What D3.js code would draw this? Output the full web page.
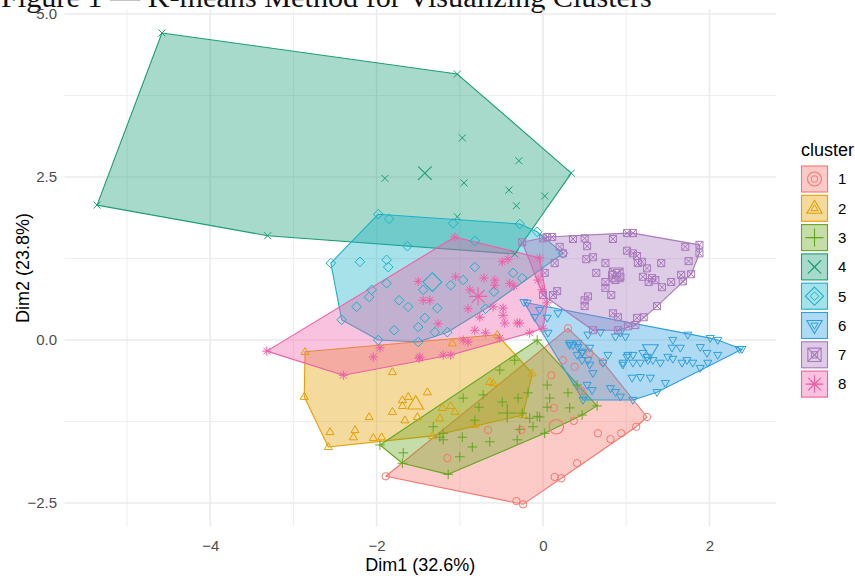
<!DOCTYPE html>
<html>
<head>
<meta charset="utf-8">
<script src="https://cdn.jsdelivr.net/npm/d3@7"></script>
<style>
  html, body { margin: 0; padding: 0; background: #ffffff; }
  svg { display: block; }
</style>
</head>
<body>
<svg id="chart" width="855" height="576"></svg>
<script>
// ---- data: PCA coordinates (Dim1, Dim2) of each observation, by k-means cluster ----
const clusterNames = ["1", "2", "3", "4", "5", "6", "7", "8"];
const clusterColors = ["#F8766D", "#E69F00", "#66A61E", "#1B9E77", "#17B4C8", "#2E9FDF", "#A979BD", "#EE5FA7"];
const clusterShapes = ["circle", "triangle", "plus", "cross", "diamond", "triangleDown", "squareCross", "asterisk"];

const cluster1 = [[0.30,0.18],[0.56,-0.20],[0.38,-0.41],[0.10,-0.54],[0.24,-0.31],[0.72,-0.34],[0.46,-0.78],
  [0.13,-1.04],[0.37,-1.24],[-0.26,-1.38],[-0.66,-1.38],[-1.15,-1.81],[0.66,-1.43],[0.81,-1.52],[0.94,-1.43],
  [1.12,-1.33],[1.25,-1.18],[0.41,-1.89],[0.14,-2.10],[0.22,-2.12],[-0.32,-2.47],[-0.24,-2.52],[-1.89,-2.09]];
const cluster2 = [[-2.86,-0.18],[-1.81,-0.49],[-2.87,-0.87],[-2.56,-1.41],[-2.26,-1.38],[-2.28,-1.49],[-2.58,-1.64],
  [-2.09,-1.18],[-1.81,-1.10],[-1.69,-0.92],[-1.69,-1.01],[-1.62,-0.87],[-1.39,-0.80],[-1.51,-1.18],[-1.66,-1.23],
  [-2.04,-1.50],[-1.94,-1.49],[-1.21,-1.04],[-1.24,-1.20],[-1.09,-0.05],[-0.55,0.08],[-0.13,-0.51],[-0.64,-0.64],
  [-0.60,-0.66],[-1.11,-1.01],[-1.06,-1.10],[-0.82,-1.30],[-0.24,-1.15],[-1.33,-1.47]];
const cluster3 = [[-0.07,0.00],[-0.96,-0.89],[-0.72,-0.84],[-0.77,-1.03],[-0.49,-0.95],[-0.30,-0.89],[-0.18,-0.81],
  [0.05,-0.69],[0.08,-0.89],[0.05,-1.03],[0.30,-0.81],[0.41,-0.69],[0.32,-1.04],[0.47,-1.15],[0.65,-1.01],
  [-0.25,-1.12],[-0.16,-1.20],[-0.07,-1.17],[-0.04,-1.18],[-0.12,-1.33],[-0.28,-1.37],[-0.31,-1.53],[0.02,-1.43],
  [-0.64,-1.56],[-0.85,-1.64],[-1.00,-1.79],[-1.20,-1.53],[-0.97,-1.49],[-1.32,-1.33],[-0.82,-1.23],[-1.14,-2.06],
  [-1.24,-1.49],[-1.20,-1.43],[-1.68,-1.73],[-1.96,-1.61],[-1.69,-1.89],[-0.52,-0.46],[-0.34,-0.31]];
const cluster4 = [[-4.58,4.71],[-1.03,4.08],[0.34,2.56],[-5.36,2.07],[-3.31,1.60],[-0.97,3.10],[-0.29,2.75],
  [-0.95,2.41],[-1.90,2.48],[-0.41,2.30],[-0.32,2.06],[0.02,2.21],[-1.03,1.89],[-0.34,1.32]];
const cluster5 = [[-2.55,1.18],[-1.98,1.93],[-1.85,1.86],[-1.08,1.79],[-0.28,1.78],[-0.07,1.66],[0.24,1.33],
  [-0.82,1.52],[-1.63,1.44],[-1.88,1.23],[-1.86,1.12],[-0.82,1.12],[-1.88,0.87],[-1.44,0.77],[-1.11,0.84],
  [-0.96,0.92],[-2.09,0.66],[-2.24,0.51],[-1.73,0.61],[-1.62,0.51],[-1.27,0.49],[-0.59,0.74],[-1.42,0.34],
  [-1.50,0.20],[-1.79,0.15],[-1.30,0.12],[-1.15,0.12],[-0.69,0.48],[-0.36,1.03],[-0.25,0.95],[-2.42,0.31],
  [-1.98,0.00],[-1.50,-0.03],[-2.20,1.20],[-2.06,0.77]];
const cluster6 = [[-0.23,0.58],[-0.19,0.57],[-0.04,0.46],[0.18,0.41],[-0.10,0.35],[0.05,0.34],[0.06,0.11],
  [0.54,0.08],[0.87,0.05],[0.99,0.05],[1.56,0.00],[1.74,0.08],[2.01,0.03],[2.10,0.00],[2.36,-0.14],[2.39,-0.14],
  [1.55,-0.12],[1.65,-0.12],[1.89,-0.11],[1.97,-0.20],[2.10,-0.23],[0.32,-0.05],[0.42,-0.11],[0.56,-0.12],
  [0.47,-0.18],[0.78,-0.23],[1.01,-0.26],[1.08,-0.23],[1.25,-0.26],[1.32,-0.31],[1.50,-0.26],[1.56,-0.29],
  [1.67,-0.35],[1.73,-0.31],[1.80,-0.35],[1.98,-0.35],[0.54,-0.31],[0.72,-0.35],[0.96,-0.35],[1.17,-0.35],
  [1.41,-0.35],[0.36,-0.08],[0.47,-0.20],[0.41,-0.23],[0.47,-0.31],[0.56,-0.38],[0.60,-0.51],[0.53,-0.69],
  [0.59,-0.77],[0.81,-0.74],[0.87,-0.80],[0.93,-0.87],[0.48,-0.92],[1.08,-0.92],[1.02,-0.23],[1.20,-0.20],
  [1.26,-0.31],[1.08,-0.35],[0.96,-0.38],[1.29,-0.58],[1.17,-0.57],[1.07,-0.58],[1.37,-0.80],[0.69,0.12],
  [0.93,0.11],[0.42,-0.05],[0.32,-0.08],[1.47,-0.66],[1.89,-0.43]];
const cluster7 = [[-0.25,1.50],[0.00,1.56],[0.05,1.58],[0.11,1.58],[0.36,1.55],[0.50,1.56],[0.84,1.55],[1.01,1.64],
  [1.08,1.64],[1.71,1.43],[1.88,1.46],[1.88,1.33],[0.53,1.44],[0.20,1.43],[0.24,1.33],[1.01,1.37],[1.08,1.33],
  [1.13,1.29],[0.52,1.24],[0.60,1.27],[0.14,1.18],[0.75,1.18],[1.42,1.18],[1.75,1.21],[1.14,1.18],[1.19,1.20],
  [1.25,1.10],[0.02,1.03],[0.64,1.03],[0.83,1.00],[0.89,1.03],[0.93,0.97],[0.87,0.92],[1.20,0.97],[1.31,0.95],
  [1.35,0.92],[1.27,0.89],[1.54,0.89],[1.66,1.00],[1.78,1.01],[1.68,0.90],[0.75,0.89],[0.75,0.80],[1.43,0.81],
  [0.82,0.69],[0.17,0.75],[0.00,0.69],[0.12,0.69],[0.54,0.67],[0.50,0.61],[0.50,0.52],[1.37,0.52],[0.84,0.41],
  [0.90,0.35],[1.02,0.21],[1.11,0.23],[1.13,0.34],[1.21,0.35],[0.60,0.15],[0.90,0.15]];
const cluster8 = [[-3.32,-0.17],[-2.40,-0.54],[-2.04,-0.26],[-1.48,-0.26],[-1.20,-0.23],[-1.06,1.58],[-1.50,0.90],
  [-1.44,0.61],[-1.05,0.97],[-1.26,0.25],[-0.90,0.48],[-0.76,0.35],[-0.60,0.51],[-0.48,0.49],[-0.48,0.38],
  [-0.58,0.92],[-0.58,0.84],[-0.49,1.20],[-0.42,1.24],[-0.35,0.83],[-0.46,0.26],[-0.31,0.26],[-0.82,0.15],
  [-0.69,0.11],[-0.96,0.00],[-0.90,-0.03],[-1.96,-0.12],[-1.49,-0.28],[-1.11,-0.23],[-0.52,0.03],[-0.40,0.87],
  [-0.06,0.92],[-0.01,0.77],[0.05,0.57],[0.00,0.18],[-0.16,0.11],[-0.28,0.26],[-1.36,0.61],[-0.88,0.77],
  [-0.71,0.95],[-0.04,1.26]];
const clusterPoints = [cluster1, cluster2, cluster3, cluster4, cluster5, cluster6, cluster7, cluster8];

// cluster centres (drawn with enlarged symbols)
const clusterCenters = [[0.16,-1.33],[-1.53,-0.98],[-0.43,-1.12],[-1.42,2.56],[-1.33,0.89],[1.29,-0.15],[0.88,1.00],[-0.78,0.67]];

const xTicks = [-4, -2, 0, 2];
const yTicks = [-2.5, 0, 2.5, 5];
const xMinor = [-5, -3, -1, 1];
const yMinor = [-1.25, 1.25, 3.75];
const xTitle = "Dim1 (32.6%)";
const yTitle = "Dim2 (23.8%)";
const legendTitle = "cluster";
const caption = "Figure 1 \u2014 K-means Method for Visualizing Clusters";

// ---- layout ----
const svg = d3.select("#chart");
const panel = { left: 64.6, right: 776, top: 9.5, bottom: 526.5 };
const x = d3.scaleLinear().domain([-5.75, 2.80]).range([panel.left, panel.right]);
const y = d3.scaleLinear().domain([-2.86, 5.07]).range([panel.bottom, panel.top]);
const fillAlpha = 0.38;
const pointSize = 3.7, centerSize = 7.2;

// symbol outlines (open shapes, like R pch 1-8)
function symbolPath(shape, s) {
  switch (shape) {
    case "circle":
      return `M${s},0A${s},${s} 0 1,1 ${-s},0A${s},${s} 0 1,1 ${s},0Z`;
    case "triangle": {
      const h = s * 1.15;
      return `M0,${-h}L${h * 0.95},${h * 0.62}L${-h * 0.95},${h * 0.62}Z`;
    }
    case "triangleDown": {
      const h = s * 1.15;
      return `M0,${h}L${h * 0.95},${-h * 0.62}L${-h * 0.95},${-h * 0.62}Z`;
    }
    case "plus": {
      const p = s * 1.3;
      return `M${-p},0H${p}M0,${-p}V${p}`;
    }
    case "cross": {
      const c = s * 0.95;
      return `M${-c},${-c}L${c},${c}M${-c},${c}L${c},${-c}`;
    }
    case "diamond": {
      const d = s * 1.3;
      return `M0,${-d}L${d},0L0,${d}L${-d},0Z`;
    }
    case "squareCross": {
      const q = s * 0.95;
      return `M${-q},${-q}H${q}V${q}H${-q}Z M${-q},${-q}L${q},${q}M${-q},${q}L${q},${-q}`;
    }
    case "asterisk": {
      const p = s * 1.25, c = s * 0.9;
      return `M${-p},0H${p}M0,${-p}V${p}M${-c},${-c}L${c},${c}M${-c},${c}L${c},${-c}`;
    }
  }
  return "";
}

// ---- caption line above the panel ----
svg.append("text")
  .attr("x", 1).attr("y", 7)
  .attr("font-family", "'Liberation Serif', 'Times New Roman', serif")
  .attr("font-size", 30.2)
  .attr("fill", "#111")
  .text(caption);

// ---- grid ----
const grid = svg.append("g");
grid.selectAll("line.xminor").data(xMinor).join("line")
  .attr("x1", d => x(d)).attr("x2", d => x(d))
  .attr("y1", panel.top).attr("y2", panel.bottom)
  .attr("stroke", "#EBEBEB").attr("stroke-width", 0.9);
grid.selectAll("line.yminor").data(yMinor).join("line")
  .attr("x1", panel.left).attr("x2", panel.right)
  .attr("y1", d => y(d)).attr("y2", d => y(d))
  .attr("stroke", "#EBEBEB").attr("stroke-width", 0.9);
grid.selectAll("line.xmajor").data(xTicks).join("line")
  .attr("x1", d => x(d)).attr("x2", d => x(d))
  .attr("y1", panel.top).attr("y2", panel.bottom)
  .attr("stroke", "#EBEBEB").attr("stroke-width", 1.6);
grid.selectAll("line.ymajor").data(yTicks).join("line")
  .attr("x1", panel.left).attr("x2", panel.right)
  .attr("y1", d => y(d)).attr("y2", d => y(d))
  .attr("stroke", "#EBEBEB").attr("stroke-width", 1.6);

// ---- convex hulls, one per cluster ----
const hulls = svg.append("g");
clusterPoints.forEach((pts, i) => {
  const hull = d3.polygonHull(pts.map(p => [x(p[0]), y(p[1])]));
  hulls.append("path")
    .attr("d", "M" + hull.join("L") + "Z")
    .attr("fill", clusterColors[i]).attr("fill-opacity", fillAlpha)
    .attr("stroke", clusterColors[i]).attr("stroke-width", 1.1)
    .attr("stroke-linejoin", "round");
});

// ---- observations ----
const pointsG = svg.append("g");
clusterPoints.forEach((pts, i) => {
  pointsG.selectAll(null).data(pts).join("path")
    .attr("transform", d => `translate(${x(d[0])},${y(d[1])})`)
    .attr("d", symbolPath(clusterShapes[i], pointSize))
    .attr("fill", "none")
    .attr("stroke", clusterColors[i]).attr("stroke-width", 1);
});

// ---- cluster centres ----
svg.append("g").selectAll("path").data(clusterCenters).join("path")
  .attr("transform", d => `translate(${x(d[0])},${y(d[1])})`)
  .attr("d", (d, i) => symbolPath(clusterShapes[i], centerSize))
  .attr("fill", "none")
  .attr("stroke", (d, i) => clusterColors[i]).attr("stroke-width", 1.1);

// ---- axes ----
const xAxis = svg.append("g")
  .attr("transform", `translate(0,${panel.bottom})`)
  .call(d3.axisBottom(x).tickValues(xTicks).tickSize(0).tickPadding(13.5).tickFormat(d3.format("d")));
const yAxis = svg.append("g")
  .attr("transform", `translate(${panel.left},0)`)
  .call(d3.axisLeft(y).tickValues(yTicks).tickSize(0).tickPadding(7.5).tickFormat(d3.format(".1f")));
[xAxis, yAxis].forEach(g => {
  g.select(".domain").remove();
  g.selectAll("text")
    .attr("font-family", "'Liberation Sans', Arial, sans-serif")
    .attr("font-size", 15)
    .attr("fill", "#4D4D4D");
});

// axis titles
svg.append("text")
  .attr("x", (panel.left + panel.right) / 2).attr("y", 571)
  .attr("text-anchor", "middle")
  .attr("font-family", "'Liberation Sans', Arial, sans-serif")
  .attr("font-size", 18).attr("fill", "#000")
  .text(xTitle);
svg.append("text")
  .attr("transform", `translate(29,${(panel.top + panel.bottom) / 2}) rotate(-90)`)
  .attr("text-anchor", "middle")
  .attr("font-family", "'Liberation Sans', Arial, sans-serif")
  .attr("font-size", 18).attr("fill", "#000")
  .text(yTitle);

// ---- legend ----
const legend = svg.append("g").attr("transform", "translate(801,0)");
legend.append("text")
  .attr("x", 0).attr("y", 156)
  .attr("font-family", "'Liberation Sans', Arial, sans-serif")
  .attr("font-size", 18).attr("fill", "#000")
  .text(legendTitle);
const keySize = 27, keyStep = 29.3, keyTop = 165.5;
const keys = legend.selectAll("g.key").data(clusterNames).join("g")
  .attr("transform", (d, i) => `translate(0,${keyTop + i * keyStep})`);
keys.append("rect")
  .attr("x", 0.5).attr("y", 0.5).attr("width", keySize - 1).attr("height", keySize - 1)
  .attr("fill", (d, i) => clusterColors[i]).attr("fill-opacity", fillAlpha)
  .attr("stroke", (d, i) => clusterColors[i]).attr("stroke-width", 1.1);
keys.append("path")
  .attr("transform", `translate(${keySize / 2},${keySize / 2})`)
  .attr("d", (d, i) => symbolPath(clusterShapes[i], 3.3))
  .attr("fill", "none").attr("stroke", (d, i) => clusterColors[i]).attr("stroke-width", 1);
keys.append("path")
  .attr("transform", `translate(${keySize / 2},${keySize / 2})`)
  .attr("d", (d, i) => symbolPath(clusterShapes[i], 7))
  .attr("fill", "none").attr("stroke", (d, i) => clusterColors[i]).attr("stroke-width", 1.1);
keys.append("text")
  .attr("x", 37).attr("y", keySize / 2).attr("dy", "0.36em")
  .attr("font-family", "'Liberation Sans', Arial, sans-serif")
  .attr("font-size", 15).attr("fill", "#000")
  .text(d => d);
</script>
</body>
</html>
